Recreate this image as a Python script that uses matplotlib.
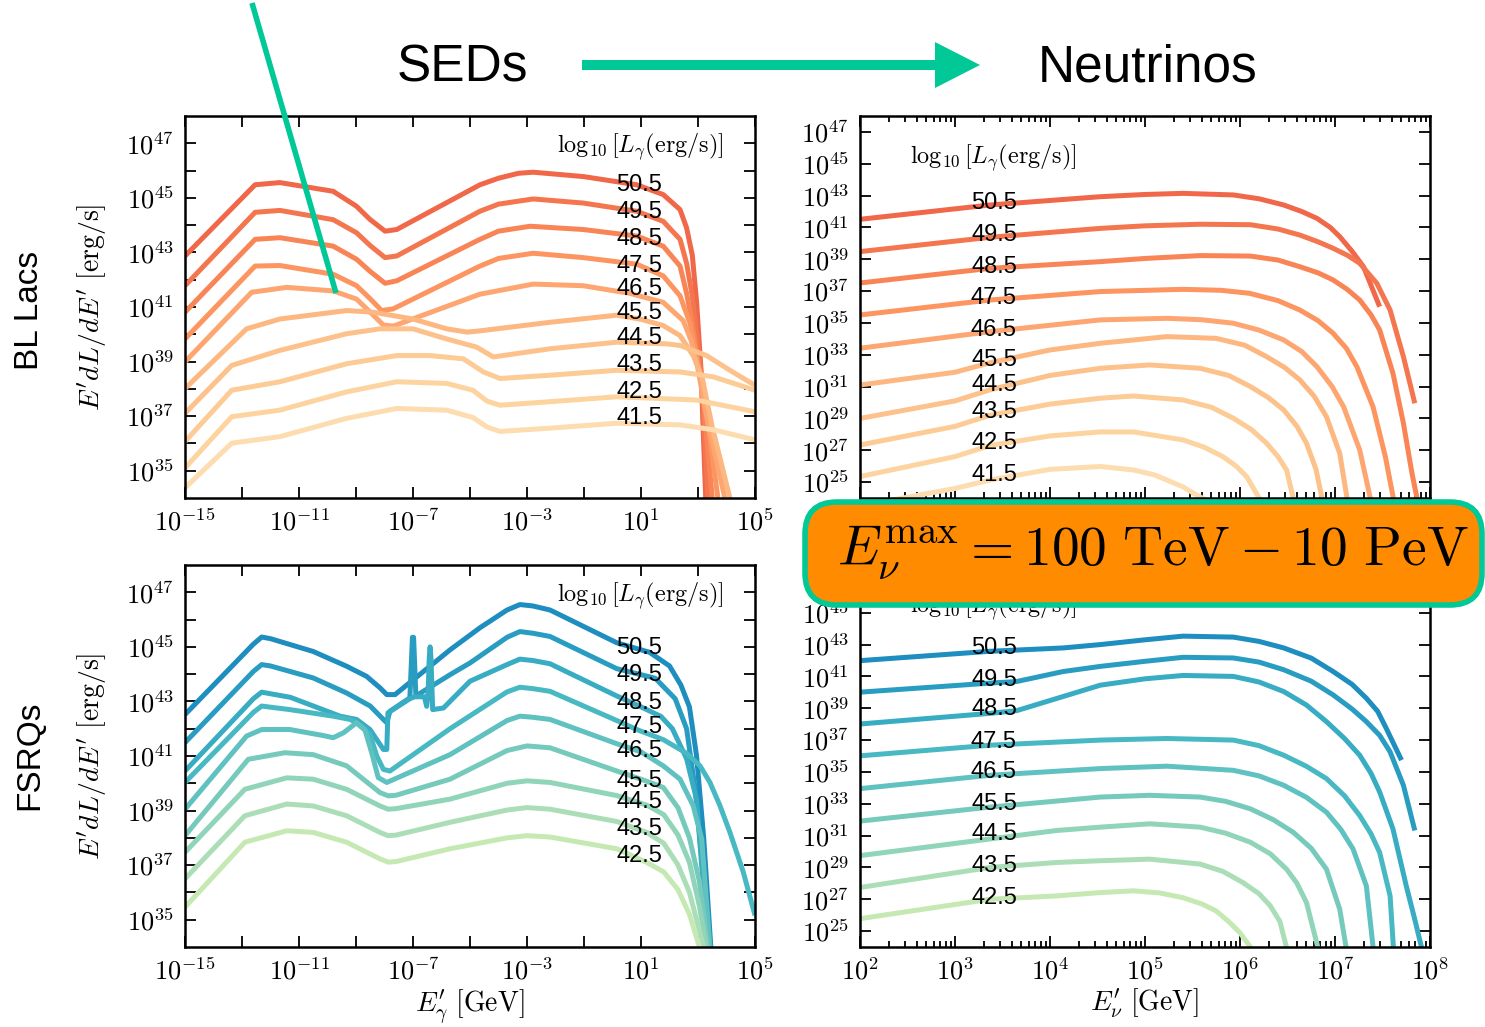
"""SEDs and neutrino spectra of BL Lacs and FSRQs"""

import numpy as np
import matplotlib
matplotlib.use('Agg')
import matplotlib.pyplot as plt
from matplotlib import ticker
from matplotlib.patches import FancyBboxPatch, FancyArrow

plt.rcParams['mathtext.fontset'] = 'cm'
plt.rcParams['font.family'] = ['Liberation Sans', 'DejaVu Sans']

# ---------------- data (log10 E, log10 L) ----------------
bl_lum = [50.5, 49.5, 48.5, 47.5, 46.5, 45.5, 44.5, 43.5, 42.5, 41.5]
fsrq_lum = [50.5, 49.5, 48.5, 47.5, 46.5, 45.5, 44.5, 43.5, 42.5]

# BL Lac photon SEDs
bl_sed_logE = [
    [-15, -12.54, -11.67, -9.8, -8.98, -8.51, -7.98, -7.57, -4.65, -4.0, -3.3, -2.78, -1.02, 0.85, 1.78, 2.37, 2.6, 2.8, 2.95, 3.1, 3.27],
    [-15, -12.54, -11.67, -9.8, -8.98, -8.5, -7.98, -7.57, -4.65, -4.0, -2.78, -1.03, 0.85, 1.78, 2.37, 2.6, 2.8, 2.95, 3.12, 3.35],
    [-15, -12.54, -11.67, -9.8, -8.98, -8.5, -7.98, -7.57, -4.65, -4.0, -2.89, -1.03, 0.85, 1.78, 2.37, 2.6, 2.8, 2.97, 3.15, 3.5],
    [-15, -12.54, -11.67, -9.8, -8.98, -8.5, -8.1, -7.7, -4.65, -4.0, -2.78, -1.03, 0.85, 1.78, 2.37, 2.72, 2.95, 3.2, 3.7],
    [-15, -12.66, -11.43, -9.8, -8.98, -8.5, -8.04, -7.69, -4.65, -2.78, -1.03, 0.61, 1.78, 2.48, 2.75, 2.95, 3.3, 3.94],
    [-15, -12.84, -11.67, -9.33, -8.4, -7.0, -5.82, -5.1, -4.7, -2.19, 0.15, 1.0, 1.78, 2.37, 2.83, 3.15, 3.5, 4.12],
    [-15, -13.36, -11.67, -9.33, -8.16, -7.0, -5.82, -4.77, -4.18, -2.19, 0.15, 1.9, 2.37, 3.3, 4.12, 5.0],
    [-15, -13.36, -11.67, -9.33, -7.57, -6.4, -5.23, -4.53, -3.95, -2.19, 0.15, 2.37, 3.54, 5.0],
    [-15, -13.36, -11.67, -9.33, -7.57, -5.82, -4.9, -4.4, -3.95, -2.19, 0.15, 2.95, 5.0],
    [-15, -13.36, -11.67, -9.33, -7.57, -5.82, -4.9, -4.4, -3.95, -2.19, 0.15, 2.37, 3.54, 5.0],
]
bl_sed_logL = [
    [42.87, 45.48, 45.56, 45.24, 44.69, 44.21, 43.78, 43.84, 45.48, 45.72, 45.9, 45.94, 45.78, 45.48, 45.12, 44.57, 43.9, 42.9, 41.2, 38.8, 34.0],
    [41.78, 44.47, 44.54, 44.2, 43.72, 43.25, 42.81, 42.87, 44.51, 44.77, 44.96, 44.81, 44.51, 44.14, 43.48, 42.6, 41.4, 40.0, 38.5, 34.0],
    [40.81, 43.48, 43.54, 43.23, 42.75, 42.3, 41.87, 41.96, 43.48, 43.78, 43.96, 43.84, 43.6, 43.23, 42.5, 41.5, 40.4, 39.2, 38.0, 34.0],
    [39.83, 42.5, 42.52, 42.2, 41.78, 41.3, 40.87, 40.93, 42.5, 42.78, 42.97, 42.81, 42.57, 42.14, 41.41, 40.4, 39.2, 37.8, 34.0],
    [38.99, 41.54, 41.72, 41.59, 41.29, 40.81, 40.34, 40.3, 41.47, 41.84, 41.78, 41.5, 41.17, 40.5, 39.8, 39.0, 37.0, 34.0],
    [38.01, 40.2, 40.56, 40.87, 40.81, 40.56, 40.2, 40.08, 40.12, 40.44, 40.7, 40.55, 40.32, 39.95, 39.22, 38.4, 36.6, 34.0],
    [37.1, 38.86, 39.41, 40.02, 40.2, 40.2, 39.83, 39.53, 39.17, 39.47, 39.71, 39.65, 39.59, 39.22, 38.68, 38.13],
    [36.07, 37.95, 38.26, 38.92, 39.22, 39.22, 39.1, 38.62, 38.38, 38.5, 38.68, 38.62, 38.44, 37.95],
    [35.1, 36.98, 37.22, 37.89, 38.26, 38.2, 37.95, 37.55, 37.4, 37.53, 37.71, 37.59, 37.16],
    [34.37, 36.01, 36.25, 36.92, 37.28, 37.22, 36.95, 36.6, 36.44, 36.56, 36.74, 36.68, 36.5, 36.13],
]
bl_sed_label_L = [45.48, 44.5, 43.51, 42.49, 41.66, 40.78, 39.87, 38.89, 37.9, 36.92]

# FSRQ photon SEDs
fsrq_sed_logE = [
    [-15, -12.6, -12.31, -12.0, -10.5, -9.33, -8.63, -8.16, -7.92, -7.63, -5.7, -4.65, -3.7, -3.25, -2.8, -2.19, 0.15, 1.3, 2.0, 2.4, 2.7, 2.95, 3.2, 3.45],
    [-15, -12.6, -12.31, -12.0, -10.5, -9.33, -8.5, -8.04, -7.92, -7.81, -7.11, -7.05, -7.02, -6.98, -6.95, -6.9, -5.7, -5.0, -3.7, -3.25, -2.8, -2.19, 0.15, 1.5, 2.2, 2.6, 2.9, 3.2, 3.4],
    [-15, -12.6, -12.31, -11.3, -9.56, -8.98, -8.51, -8.04, -7.92, -7.88, -7.11, -6.94, -6.6, -6.52, -6.47, -6.43, -6.40, -6.37, -6.31, -5.93, -5.0, -3.7, -3.25, -2.8, -2.19, 0.15, 1.0, 1.7, 2.1, 2.6, 2.95, 3.35],
    [-15, -12.6, -12.31, -11.32, -9.8, -9.21, -8.98, -8.51, -8.27, -8.04, -7.81, -5.7, -3.7, -3.25, -2.8, -2.19, 0.15, 0.9, 1.78, 2.6, 3.07, 3.42, 3.77, 4.12, 4.59, 5.0],
    [-15, -12.84, -12.31, -11.32, -10.15, -9.8, -9.44, -8.98, -8.69, -8.45, -8.22, -7.92, -5.7, -3.7, -3.25, -2.8, -2.19, 0.15, 1.0, 1.78, 2.37, 2.83, 3.13, 3.42],
    [-15, -12.78, -11.5, -10.5, -9.33, -8.16, -7.87, -7.6, -5.7, -3.7, -3.0, -2.19, 0.15, 1.0, 1.78, 2.3, 2.7, 3.05, 3.35],
    [-15, -12.9, -11.43, -10.5, -9.33, -8.16, -7.87, -7.6, -5.7, -3.7, -3.0, -2.19, 0.15, 1.2, 1.8, 2.3, 2.7, 3.05, 3.3],
    [-15, -12.9, -11.43, -10.5, -9.33, -8.16, -7.87, -7.6, -5.7, -3.7, -3.0, -2.19, 0.15, 1.2, 1.8, 2.3, 2.7, 3.0, 3.2],
    [-15, -12.9, -11.43, -10.5, -9.33, -8.16, -7.87, -7.6, -5.7, -3.7, -3.0, -2.19, 0.15, 1.2, 1.8, 2.3, 2.7, 3.05],
]
fsrq_sed_logL = [
    [42.52, 45.1, 45.36, 45.3, 44.83, 44.29, 43.92, 43.5, 43.25, 43.25, 44.89, 45.7, 46.35, 46.55, 46.5, 46.35, 45.15, 44.8, 44.3, 43.6, 42.8, 41.0, 38.0, 34.0],
    [41.49, 44.1, 44.35, 44.3, 43.86, 43.31, 42.83, 42.34, 42.22, 42.64, 43.13, 44.6, 45.35, 45.35, 44.6, 43.2, 43.98, 44.41, 45.35, 45.56, 45.5, 45.38, 44.2, 43.85, 43.1, 42.0, 39.8, 36.5, 34.0],
    [40.45, 43.1, 43.34, 43.15, 42.46, 42.34, 41.97, 41.24, 41.24, 42.58, 43.1, 43.17, 43.17, 42.82, 43.3, 44.6, 45.0, 44.6, 42.7, 42.76, 43.74, 44.35, 44.55, 44.5, 44.38, 43.2, 42.8, 42.45, 42.0, 40.9, 39.4, 34.0],
    [40.03, 42.6, 42.83, 42.7, 42.46, 42.34, 42.22, 41.79, 41.0, 40.51, 40.45, 42.0, 43.35, 43.52, 43.47, 43.37, 42.3, 41.95, 41.6, 41.1, 40.64, 40.03, 39.18, 38.2, 36.74, 35.16],
    [39.05, 41.73, 41.97, 41.97, 41.75, 41.67, 41.85, 42.22, 41.97, 41.12, 40.21, 40.03, 41.05, 42.3, 42.46, 42.42, 42.34, 41.45, 41.15, 40.64, 40.15, 39.18, 37.96, 34.0],
    [38.08, 40.88, 41.12, 41.05, 40.64, 39.66, 39.54, 39.56, 40.15, 41.2, 41.37, 41.3, 40.45, 40.15, 39.85, 39.1, 38.0, 36.4, 34.0],
    [37.47, 39.78, 40.2, 40.15, 39.78, 39.17, 39.05, 39.07, 39.42, 40.0, 40.09, 40.03, 39.55, 39.2, 38.85, 38.1, 37.1, 35.5, 34.0],
    [36.5, 38.81, 39.24, 39.17, 38.81, 38.2, 38.08, 38.1, 38.57, 39.02, 39.11, 39.05, 38.6, 38.2, 37.8, 37.0, 36.0, 34.8, 34.0],
    [35.46, 37.84, 38.26, 38.2, 37.84, 37.23, 37.11, 37.13, 37.6, 38.0, 38.08, 38.03, 37.6, 37.1, 36.75, 36.1, 35.2, 34.0],
]
fsrq_sed_label_L = [44.97, 43.98, 42.96, 42.05, 41.17, 40.08, 39.31, 38.33, 37.34]

# BL Lac neutrino spectra
bl_nu_logE = [
    [2.0, 3.37, 4.53, 5.0, 5.4, 5.93, 6.2, 6.46, 6.65, 6.81, 6.95, 7.05, 7.18, 7.3, 7.47],
    [2.0, 3.37, 4.53, 5.0, 5.58, 6.11, 6.4, 6.63, 6.82, 6.98, 7.13, 7.26, 7.44, 7.58, 7.72, 7.84],
    [2.0, 3.37, 4.53, 5.0, 5.58, 6.11, 6.4, 6.63, 6.82, 6.98, 7.13, 7.26, 7.38, 7.47, 7.61, 7.72, 7.81, 7.88],
    [2.0, 3.37, 4.53, 5.4, 5.8, 6.1, 6.4, 6.63, 6.82, 6.98, 7.12, 7.23, 7.4, 7.53, 7.63],
    [2.0, 3.37, 4.53, 5.23, 5.6, 5.93, 6.2, 6.46, 6.65, 6.81, 6.97, 7.09, 7.26, 7.39],
    [2.0, 3.0, 3.37, 4.0, 4.53, 5.23, 5.75, 6.05, 6.28, 6.47, 6.63, 6.78, 6.91, 7.05, 7.14],
    [2.0, 3.0, 3.37, 4.0, 4.53, 5.05, 5.58, 5.88, 6.11, 6.3, 6.46, 6.6, 6.7, 6.8, 6.88],
    [2.0, 3.0, 3.37, 4.0, 4.53, 4.88, 5.4, 5.7, 5.93, 6.12, 6.28, 6.4, 6.49, 6.58],
    [2.0, 3.0, 3.37, 4.0, 4.53, 4.88, 5.4, 5.62, 5.82, 5.96, 6.07, 6.25],
    [2.0, 3.0, 3.37, 4.0, 4.53, 4.88, 5.1, 5.23, 5.4, 5.51, 5.75],
]
bl_nu_logL = [
    [41.51, 42.41, 42.93, 43.07, 43.14, 43.04, 42.8, 42.41, 42.0, 41.57, 41.0, 40.42, 39.5, 38.53, 36.02],
    [39.48, 40.38, 40.94, 41.1, 41.2, 41.17, 40.9, 40.52, 40.1, 39.69, 39.25, 38.75, 37.49, 35.81, 32.88, 29.95],
    [37.51, 38.43, 38.85, 39.05, 39.23, 39.2, 38.95, 38.53, 38.15, 37.7, 37.1, 36.44, 35.5, 34.56, 31.84, 28.7, 25.56, 23.5],
    [35.5, 36.44, 36.97, 37.11, 37.05, 36.86, 36.4, 35.81, 35.15, 34.35, 33.4, 32.25, 29.74, 26.6, 23.5],
    [33.41, 34.45, 35.19, 35.29, 35.2, 34.98, 34.55, 33.93, 33.2, 32.25, 31.0, 29.74, 27.02, 23.5],
    [31.1, 31.9, 32.5, 33.3, 33.72, 34.14, 34.03, 33.6, 32.88, 32.2, 31.42, 30.4, 29.11, 26.8, 23.5],
    [29.0, 30.1, 30.8, 31.7, 32.15, 32.36, 32.15, 31.7, 31.0, 30.3, 29.53, 28.5, 27.44, 25.8, 23.5],
    [27.33, 28.5, 29.2, 29.9, 30.27, 30.41, 30.16, 29.7, 29.01, 28.3, 27.44, 26.6, 25.76, 23.5],
    [25.35, 26.6, 27.3, 27.9, 28.15, 28.15, 27.65, 27.2, 26.6, 26.0, 25.34, 23.5],
    [23.5, 24.6, 25.13, 25.8, 25.98, 25.76, 25.45, 25.13, 24.7, 24.3, 23.5],
]
bl_nu_label_L = [42.52, 40.53, 38.54, 36.55, 34.56, 32.67, 31.1, 29.43, 27.44, 25.45]

# FSRQ neutrino spectra
fsrq_nu_logE = [
    [2.0, 3.37, 4.14, 4.53, 5.0, 5.4, 5.93, 6.2, 6.46, 6.75, 6.98, 7.18, 7.33, 7.45, 7.54, 7.7],
    [2.0, 3.37, 3.65, 4.14, 4.53, 5.0, 5.4, 5.93, 6.2, 6.46, 6.75, 6.98, 7.18, 7.33, 7.47, 7.58, 7.72, 7.84],
    [2.0, 3.37, 3.65, 4.53, 5.0, 5.4, 5.93, 6.2, 6.46, 6.7, 6.91, 7.1, 7.26, 7.38, 7.47, 7.61, 7.75, 7.84, 7.93],
    [2.0, 3.37, 4.53, 5.23, 5.93, 6.2, 6.46, 6.7, 6.91, 7.1, 7.26, 7.38, 7.47, 7.58, 7.62],
    [2.0, 3.37, 4.53, 5.23, 5.93, 6.2, 6.46, 6.7, 6.91, 7.06, 7.19, 7.33, 7.41],
    [2.0, 3.37, 4.53, 5.05, 5.58, 5.85, 6.11, 6.35, 6.56, 6.75, 6.91, 7.05, 7.13],
    [2.0, 3.37, 4.07, 4.53, 5.05, 5.58, 5.85, 6.11, 6.32, 6.49, 6.6, 6.7, 6.84],
    [2.0, 3.37, 4.07, 4.53, 5.05, 5.58, 5.82, 6.03, 6.2, 6.32, 6.42, 6.51],
    [2.0, 3.37, 4.07, 4.53, 4.88, 5.15, 5.4, 5.6, 5.75, 5.88, 6.0, 6.17],
]
fsrq_nu_logL = [
    [41.99, 42.58, 42.79, 43.0, 43.3, 43.53, 43.47, 43.2, 42.79, 42.15, 41.31, 40.5, 39.63, 38.8, 37.73, 35.74],
    [40.01, 40.58, 40.68, 41.31, 41.63, 41.95, 42.2, 42.16, 41.9, 41.42, 40.7, 39.84, 38.95, 38.16, 37.3, 36.26, 34.16, 31.32],
    [38.01, 38.68, 38.85, 40.45, 40.85, 41.06, 41.0, 40.65, 40.05, 39.2, 38.16, 37.1, 36.05, 34.9, 33.74, 31.42, 27.84, 25.73, 23.5],
    [36.01, 36.68, 37.0, 37.1, 37.0, 36.65, 36.05, 35.35, 34.58, 33.5, 32.26, 31.1, 29.94, 27.21, 23.5],
    [33.95, 34.79, 35.21, 35.36, 35.1, 34.75, 34.16, 33.4, 32.47, 31.4, 30.16, 27.84, 23.5],
    [31.91, 32.79, 33.42, 33.53, 33.42, 33.15, 32.68, 32.0, 31.21, 30.2, 28.89, 26.37, 23.5],
    [29.74, 30.79, 31.32, 31.53, 31.74, 31.53, 31.15, 30.58, 29.85, 28.89, 28.0, 26.79, 23.5],
    [27.74, 29.0, 29.31, 29.42, 29.52, 29.21, 28.75, 28.05, 27.35, 26.58, 25.6, 23.5],
    [25.78, 27.0, 27.21, 27.42, 27.53, 27.4, 27.1, 26.7, 26.26, 25.6, 24.89, 23.5],
]
fsrq_nu_label_L = [42.79, 40.79, 38.96, 36.9, 35.0, 33.0, 31.1, 29.1, 27.1]

# ---------------- style ----------------
W, H = 1485, 1027
green = '#00c896'
bl_colors = plt.cm.OrRd(np.linspace(0.62, 0.2, len(bl_lum)))
fsrq_colors = plt.cm.YlGnBu(np.linspace(0.63, 0.25, len(fsrq_lum)))
header = r'$\log_{10}[L_\gamma(\mathrm{erg/s})]$'


def pow_label(show):
    def fmt(v, pos):
        n = int(round(np.log10(v)))
        return r'$10^{%d}$' % n if show(n) else ''
    return ticker.FuncFormatter(fmt)


def frame(ax):
    ax.set_xscale('log')
    ax.set_yscale('log')
    for s in ax.spines.values():
        s.set_linewidth(1.8)
    ax.tick_params(which='both', direction='in', top=True, right=True,
                   labelsize=19, pad=8, width=1.3)
    ax.tick_params(which='major', length=8)
    ax.tick_params(which='minor', length=4)


def sed_axes(ax):
    frame(ax)
    ax.set_xlim(1e-15, 1e5)
    ax.set_ylim(1e34, 1e48)
    ax.xaxis.set_major_locator(ticker.FixedLocator(10.0 ** np.arange(-15, 6, 2)))
    ax.xaxis.set_major_formatter(pow_label(lambda n: (n + 15) % 4 == 0))
    ax.xaxis.set_minor_locator(ticker.NullLocator())
    ax.yaxis.set_major_locator(ticker.FixedLocator(10.0 ** np.arange(35, 48)))
    ax.yaxis.set_major_formatter(pow_label(lambda n: n % 2 == 1))
    ax.yaxis.set_minor_locator(ticker.NullLocator())
    ax.set_ylabel(r"$E^\prime dL/dE^\prime\ [\mathrm{erg/s}]$", fontsize=20)
    ax.yaxis.set_label_coords(-0.135, 0.5)
    ax.text(0.945, 0.92, header, transform=ax.transAxes, fontsize=17.5,
            ha='right', va='center')


def nu_axes(ax, top_label=47):
    frame(ax)
    ax.set_xlim(1e2, 1e8)
    ax.set_ylim(1e24, 1e48)
    ax.xaxis.set_major_locator(ticker.LogLocator(base=10, numticks=10))
    ax.xaxis.set_major_formatter(pow_label(lambda n: True))
    ax.xaxis.set_minor_locator(ticker.LogLocator(base=10, subs=np.arange(2, 10), numticks=10))
    ax.xaxis.set_minor_formatter(ticker.NullFormatter())
    ax.yaxis.set_major_locator(ticker.FixedLocator(10.0 ** np.arange(25, 48, 2)))
    ax.yaxis.set_major_formatter(pow_label(lambda n: n <= top_label))
    ax.yaxis.set_minor_locator(ticker.NullLocator())
    ax.text(0.088, 0.89, header, transform=ax.transAxes, fontsize=17.5,
            ha='left', va='center')


def curves(ax, logE, logL, colors, lums, label_E, label_L):
    for e, l, c in zip(logE, logL, colors):
        ax.plot(10.0 ** np.array(e), 10.0 ** np.array(l), color=c, lw=3.6,
                solid_capstyle='butt', solid_joinstyle='round')
    for lum, ly in zip(lums, label_L):
        ax.text(10.0 ** label_E, 10.0 ** ly, '%.1f' % lum, fontsize=17,
                ha='center', va='center', zorder=5)


fig = plt.figure(figsize=(W / 100, H / 100), dpi=100, facecolor='w')
axw, axh = 570 / W, 382 / H
ax_tl = fig.add_axes([185 / W, 1 - 498 / H, axw, axh])
ax_tr = fig.add_axes([860 / W, 1 - 498 / H, axw, axh])
ax_bl = fig.add_axes([185 / W, 1 - 947 / H, axw, axh])
ax_br = fig.add_axes([860 / W, 1 - 947 / H, axw, axh])

sed_axes(ax_tl)
sed_axes(ax_bl)
nu_axes(ax_tr)
nu_axes(ax_br, top_label=45)  # the 10^47 label sits under the orange box
ax_tr.tick_params(labelbottom=False)  # hidden under the orange box

curves(ax_tl, bl_sed_logE, bl_sed_logL, bl_colors, bl_lum, 0.93, bl_sed_label_L)
curves(ax_bl, fsrq_sed_logE, fsrq_sed_logL, fsrq_colors, fsrq_lum, 0.93, fsrq_sed_label_L)
curves(ax_tr, bl_nu_logE, bl_nu_logL, bl_colors, bl_lum, 3.41, bl_nu_label_L)
curves(ax_br, fsrq_nu_logE, fsrq_nu_logL, fsrq_colors, fsrq_lum, 3.41, fsrq_nu_label_L)

ax_bl.set_xlabel(r"$E^\prime_\gamma\ [\mathrm{GeV}]$", fontsize=20)
ax_bl.xaxis.set_label_coords(0.5, -0.105)
ax_br.set_xlabel(r"$E^\prime_\nu\ [\mathrm{GeV}]$", fontsize=20)
ax_br.xaxis.set_label_coords(0.5, -0.105)

# overlay in pixel coordinates for the slide decorations
ov = fig.add_axes([0, 0, 1, 1], zorder=10)
ov.set_xlim(0, W)
ov.set_ylim(H, 0)
ov.axis('off')
ov.patch.set_alpha(0)

ov.text(462, 68, 'SEDs', fontsize=37, ha='center', va='center')
ov.text(1148, 68, 'Neutrinos', fontsize=37, ha='center', va='center')
ov.add_patch(FancyArrow(582, 65, 398, 0, width=10, head_width=46, head_length=45,
                        length_includes_head=True, color=green, lw=0))
ov.plot([252, 336], [3, 293], color=green, lw=4, solid_capstyle='butt')
ov.text(30, 310, 'BL Lacs', fontsize=24, rotation=90, ha='center', va='center')
ov.text(30, 755, 'FSRQs', fontsize=24, rotation=90, ha='center', va='center')

ov.add_patch(FancyBboxPatch((805, 502), 677, 103, boxstyle='round,pad=0,rounding_size=32',
                            fc='#ff8c00', ec=green, lw=4))
ov.text(1153, 553, r'$E_\nu^{\mathrm{max}} = 100\ \mathrm{TeV} - 10\ \mathrm{PeV}$',
        fontsize=40, ha='center', va='center')

fig.savefig('out.png', dpi=100, facecolor=fig.get_facecolor())
